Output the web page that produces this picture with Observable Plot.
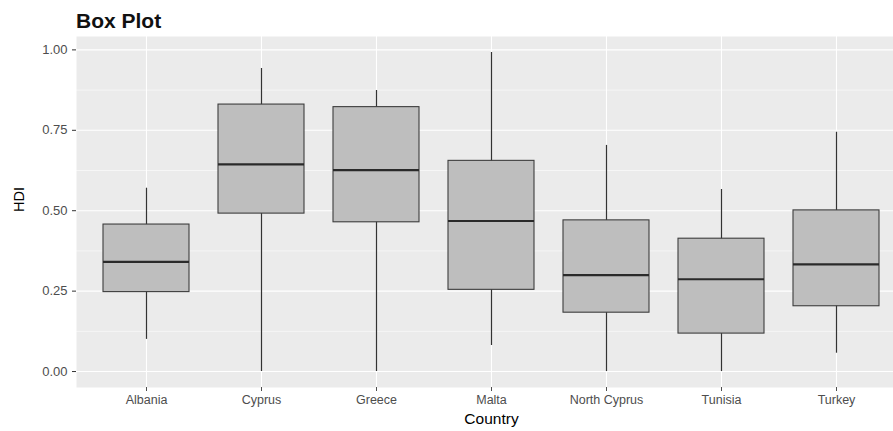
<!DOCTYPE html>
<html>
<head>
<meta charset="utf-8">
<script src="https://cdn.jsdelivr.net/npm/d3@7"></script>
<script src="https://cdn.jsdelivr.net/npm/@observablehq/plot@0.6"></script>
<style>
  html, body { margin: 0; padding: 0; background: #fff; overflow: hidden; }
  #wrap { width: 893px; height: 431px; overflow: hidden; position: relative; }
  #title { height: 33px; font-family: "Liberation Sans", Arial, sans-serif; font-size: 21px; font-weight: bold; color: #111; padding-left: 76px; padding-top: 10px; line-height: 21px; box-sizing: border-box; }
  #chart svg { display: block; max-width: none !important; }
</style>
</head>
<body>
<div id="wrap">
  <div id="title">Box Plot</div>
  <div id="chart"></div>
</div>
<script>
const countries = ["Albania", "Cyprus", "Greece", "Malta", "North Cyprus", "Tunisia", "Turkey"];
const whiskerLow  = [0.100, 0.000, 0.000, 0.081, 0.000, 0.000, 0.057];
const q1          = [0.247, 0.491, 0.464, 0.254, 0.183, 0.118, 0.203];
const median      = [0.341, 0.644, 0.626, 0.468, 0.300, 0.287, 0.333];
const q3          = [0.457, 0.830, 0.822, 0.655, 0.470, 0.413, 0.501];
const whiskerHigh = [0.570, 0.942, 0.874, 0.992, 0.703, 0.566, 0.744];
const yTicks = [0, 0.25, 0.5, 0.75, 1];
const yMinor = [0.125, 0.375, 0.625, 0.875];

const rows = countries.map((c, i) => ({
  country: c, lo: whiskerLow[i], q1: q1[i], med: median[i], q3: q3[i], hi: whiskerHigh[i]
}));

const font = '"Liberation Sans", Arial, sans-serif';

const chart = Plot.plot({
  width: 906,
  height: 398,
  marginLeft: 76,
  marginRight: 0,
  marginTop: 3,
  marginBottom: 44,
  style: { fontFamily: font, background: "#fff", overflow: "visible", maxWidth: "none" },
  x: { type: "band", domain: countries, paddingInner: 0.25, paddingOuter: 0.225, align: 0.5 },
  y: { domain: [-0.0496, 1.0416] },
  marks: [
    Plot.frame({ fill: "#ebebeb", stroke: null }),
    Plot.ruleY(yMinor, { stroke: "#fff", strokeWidth: 0.55 }),
    Plot.ruleY(yTicks, { stroke: "#fff", strokeWidth: 1.1 }),
    Plot.gridX({ stroke: "#fff", strokeOpacity: 1, strokeWidth: 1.1 }),
    Plot.ruleX(rows, { x: "country", y1: "lo", y2: "hi", stroke: "#333", strokeWidth: 1.2 }),
    Plot.barY(rows, { x: "country", y1: "q1", y2: "q3", fill: "#bebebe", stroke: "#3d3d3d", strokeWidth: 1.1 }),
    Plot.tickY(rows, { x: "country", y: "med", stroke: "#2a2a2a", strokeWidth: 2.2 }),
    Plot.axisY({ ticks: yTicks, tickFormat: d3.format(".2f"), tickSize: 4, tickPadding: 5, fontSize: 13, color: "#4d4d4d", stroke: "#333", label: null }),
    Plot.axisX({ tickSize: 4, tickPadding: 4, fontSize: 12.5, color: "#4d4d4d", label: null }),
    Plot.text(["Country"], { frameAnchor: "bottom", dy: 36, fontSize: 15.5, fill: "#000" }),
    Plot.text(["HDI"], { frameAnchor: "left", dx: -57, rotate: -90, fontSize: 14.5, fill: "#000" })
  ]
});
document.getElementById("chart").appendChild(chart);
</script>
</body>
</html>
